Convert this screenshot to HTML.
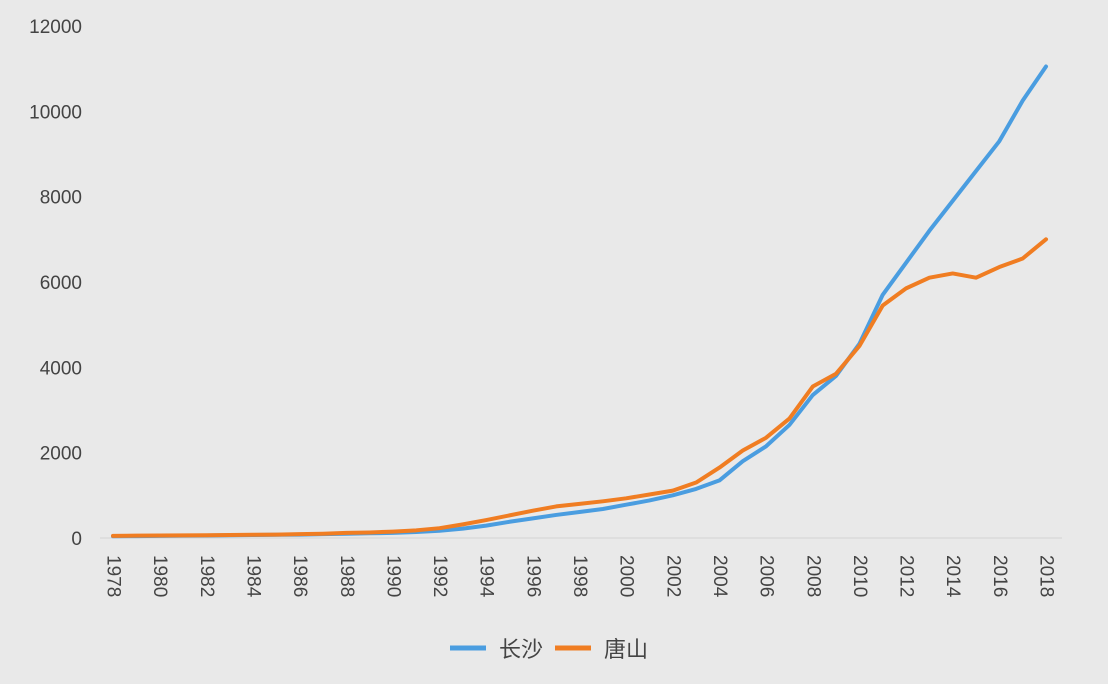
<!DOCTYPE html>
<html><head><meta charset="utf-8"><style>
html,body{margin:0;padding:0;background:#e9e9e9;}
svg{display:block;font-family:"Liberation Sans","Noto Sans CJK SC",sans-serif;}
</style></head><body>
<svg id="chart" width="1108" height="684">
<rect width="1108" height="684" fill="#e9e9e9"/>
</svg>
<script>
const years=[1978,1979,1980,1981,1982,1983,1984,1985,1986,1987,1988,1989,1990,1991,1992,1993,1994,1995,1996,1997,1998,1999,2000,2001,2002,2003,2004,2005,2006,2007,2008,2009,2010,2011,2012,2013,2014,2015,2016,2017,2018];
const changsha=[40,45,50,55,60,65,70,75,80,90,100,110,120,140,170,220,290,380,460,540,610,680,780,880,1000,1150,1350,1800,2150,2650,3350,3800,4550,5700,6450,7200,7900,8600,9300,10250,11050];
const tangshan=[50,55,60,62,65,70,75,80,90,100,120,130,150,180,230,320,420,530,640,740,800,860,930,1020,1110,1300,1650,2050,2350,2800,3550,3850,4500,5450,5850,6100,6200,6100,6350,6550,7000];
const yTicks=[0,2000,4000,6000,8000,10000,12000];
const ns="http://www.w3.org/2000/svg";
const svg=document.getElementById('chart');
const X=y=>113+(y-1978)*23.325;
const Y=v=>538-v*0.04267;
function mk(t,a){const e=document.createElementNS(ns,t);for(const k in a)e.setAttribute(k,a[k]);svg.appendChild(e);return e;}
let ax=mk('line',{x1:100,x2:1062,y1:Y(0),y2:Y(0),stroke:'#d4d4d4','stroke-width':1});


yTicks.forEach(v=>{const t=mk('text',{x:82,y:Y(v)+7,'text-anchor':'end','font-size':19,fill:'#444'});t.textContent=v;

});
years.forEach(y=>{if((y-1978)%2)return;const x=X(y),yy=555;const t=mk('text',{x:x,y:yy,'font-size':19,fill:'#444',transform:`rotate(90 ${x} ${yy})`,'dominant-baseline':'central'});t.textContent=y;

});
function line(d,c,name){const p=mk('polyline',{points:d.map((v,i)=>X(years[i])+','+Y(v)).join(' '),fill:'none',stroke:c,'stroke-width':4,'stroke-linejoin':'round','stroke-linecap':'round'});

}
line(changsha,'#4a9de0','series-changsha');
line(tangshan,'#f07d22','series-tangshan');
const legend=[['长沙','#4a9de0',450],['唐山','#f07d22',555]];
legend.forEach(([n,c,x])=>{const l=mk('line',{x1:x,x2:x+36,y1:648,y2:648,stroke:c,'stroke-width':5});


const t=mk('text',{x:x+49,y:657,'font-size':22,fill:'#444'});t.textContent=n;

});
</script>
</body></html>
